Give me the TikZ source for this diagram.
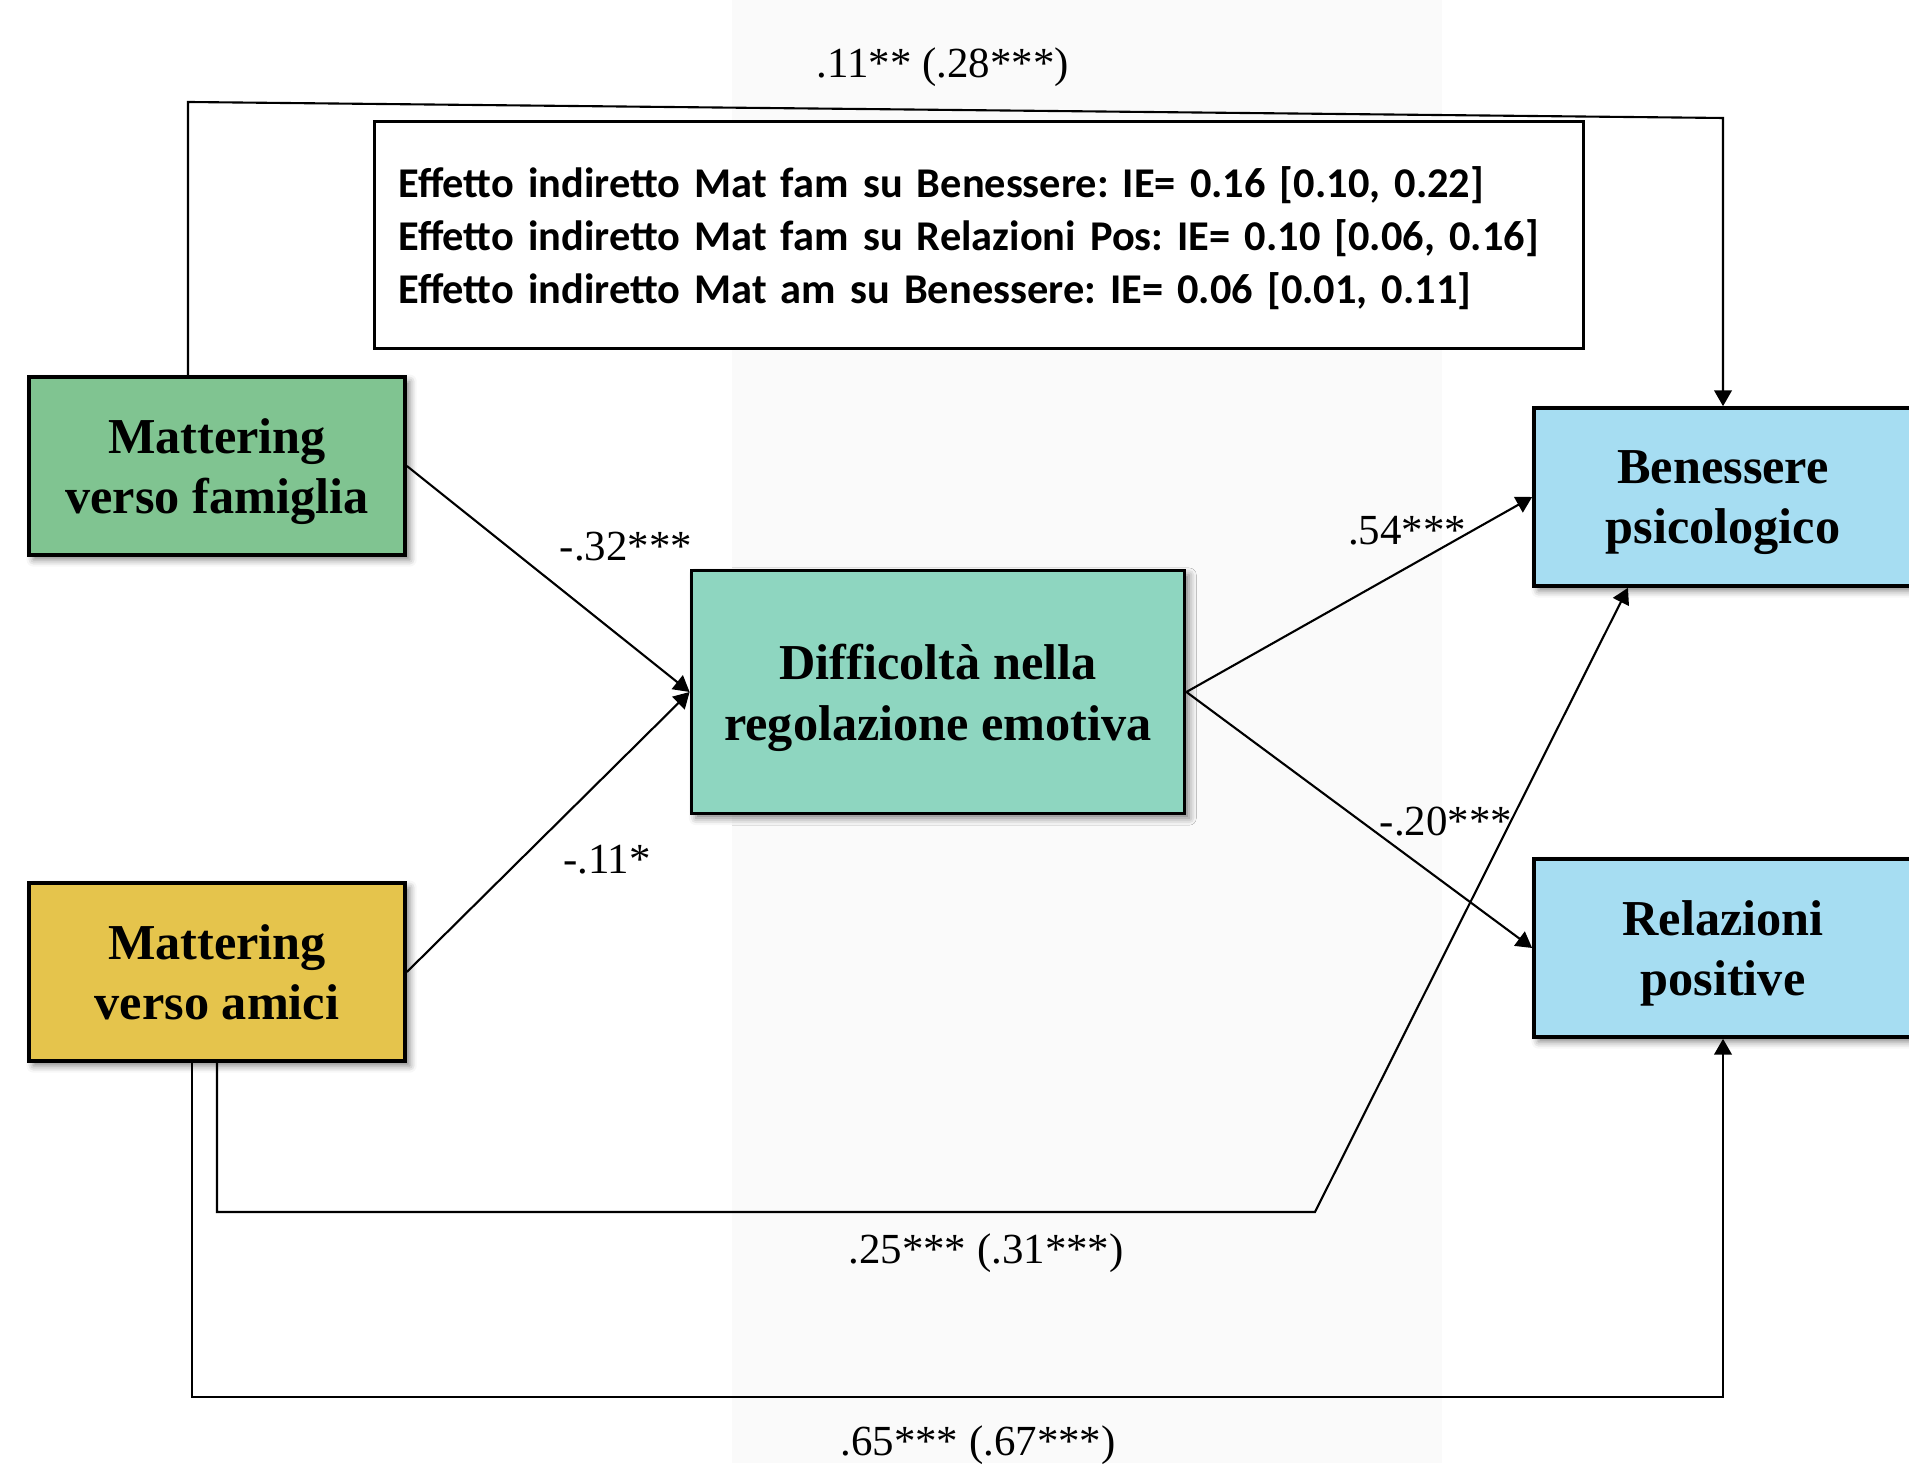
\documentclass[tikz,border=0pt]{standalone}
\usepackage{fontspec}
\setmainfont{Liberation Serif}
\newfontfamily\calibri{Carlito}
\usetikzlibrary{calc, arrows.meta, shadows.blur}
\definecolor{famgreen}{RGB}{128,196,145}
\definecolor{amigold}{RGB}{229,196,76}
\definecolor{regteal}{RGB}{142,214,192}
\definecolor{outblue}{RGB}{166,221,242}
\frenchspacing

\begin{document}
\begin{tikzpicture}[x=0.01cm, y=-0.01cm]
\tikzset{var/.style={draw, line width=1pt, minimum width=3.76cm, minimum height=1.78cm, align=center, text depth=0pt, font=\bfseries\fontsize{14.3}{17.3}\selectfont, blur shadow={shadow xshift=1.3pt, shadow yshift=-1.3pt, shadow blur radius=2pt, shadow opacity=50}},
  link/.style={line width=0.6pt, -{Triangle[length=4.5pt, width=5pt]}},
  coef/.style={anchor=base, inner sep=0pt, font=\fontsize{12.2}{14}\selectfont}}

\useasboundingbox (0,0) rectangle (1909,1483);
% light band behind the middle
\fill [black!2] (732,0) rectangle (1442,1463);

\node [var, fill=famgreen] (MF) at (217,466) {Mattering\\verso famiglia};
\node [var, fill=amigold] (MA) at (217,972) {Mattering\\verso amici};
\node [var, fill=regteal, minimum width=4.93cm, minimum height=2.43cm] (DRE) at (938,692) {Difficoltà nella\\regolazione emotiva};
\node [var, fill=outblue, minimum width=3.78cm] (BP) at (1723,497) {Benessere\\psicologico};
\node [var, fill=outblue, minimum width=3.78cm] (RP) at (1723,948) {Relazioni\\positive};

\node [draw, fill=white, line width=1pt, text width=11.6cm, inner xsep=0.24cm, minimum height=2.27cm, align=left, text depth=30pt, font=\calibri\bfseries\fontsize{12.05}{15}\selectfont] (IE) at (979,235) {Effetto indiretto Mat fam su Benessere: IE= 0.16 [0.10, 0.22]\\Effetto indiretto Mat fam su Relazioni Pos: IE= 0.10 [0.06, 0.16]\\Effetto indiretto Mat am su Benessere: IE= 0.06 [0.01, 0.11]};

% bends of the long paths
\coordinate (T1) at (188,102);
\coordinate (T2) at (1723,118);
\coordinate (B1) at (1315,1212);
\coordinate (B2) at (1723,1397);

\draw [link] (MF.east) -- (DRE.west);
\draw [link] (MA.east) -- (DRE.west);
\draw [link] (DRE.east) -- (BP.west);
\draw [link] (DRE.east) -- (RP.west);
\draw [link] ([xshift=-0.29cm]MF.north) -- (T1) -- (T2) -- (BP.north);
\draw [link] (MA.south) |- (B1) -- ([xshift=-0.95cm]BP.south);
\draw [link] ([xshift=-0.25cm]MA.south) |- (B2) -- (RP.south);

\node [coef] (C1) at (943,78) {.11** (.28***)};
\node [coef] (C2) at (626,561) {-.32***};
\node [coef] (C3) at (607,874) {-.11*};
\node [coef] (C4) at (1407,545) {.54***};
\node [coef] (C5) at (1446,836) {-.20***};
\node [coef] (C6) at (986,1264) {.25*** (.31***)};
\node [coef] (C7) at (978,1455) {.65*** (.67***)};
\end{tikzpicture}
\end{document}
